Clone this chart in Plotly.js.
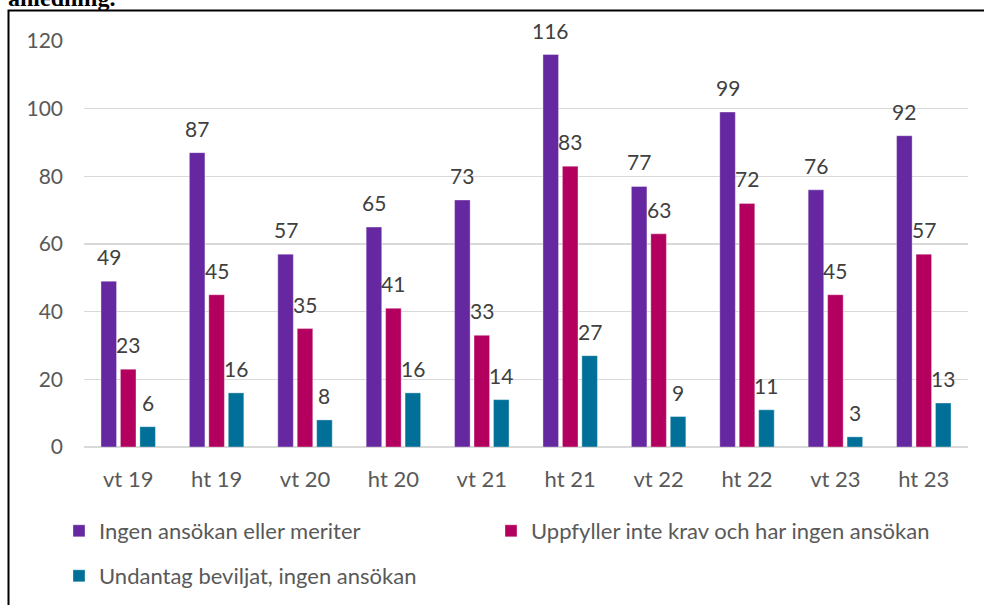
<!DOCTYPE html>
<html>
<head>
<meta charset="utf-8">
<script src="https://cdn.plot.ly/plotly-3.0.1.min.js"></script>
<style>html,body{margin:0;padding:0;background:#fff;}#chart{width:984px;height:605px;}</style>
</head>
<body>
<div id="chart"></div>
<script>
const categories = ["vt 19","ht 19","vt 20","ht 20","vt 21","ht 21","vt 22","ht 22","vt 23","ht 23"];
const seriesNames = ["Ingen ansökan eller meriter","Uppfyller inte krav och har ingen ansökan","Undantag beviljat, ingen ansökan"];
const ingenAnsokan = [49,87,57,65,73,116,77,99,76,92];
const uppfyllerInte = [23,45,35,41,33,83,63,72,45,57];
const undantag = [6,16,8,16,14,27,9,11,3,13];
const yTicks = [0,20,40,60,80,100,120];
const colors = ["#6528A0","#B3005E","#007098"];

const W = 984, H = 605;
const M = {l:84, r:16, t:41, b:158};
const plotW = W - M.l - M.r, plotH = H - M.t - M.b;
const bargap = 0.34, bargroupgap = 0.2;
const font = "Lato, 'Open Sans', sans-serif";

const seriesValues = [ingenAnsokan, uppfyllerInte, undantag];
const legendIds = ["legend","legend2","legend3"];

const traces = seriesValues.map((vals, s) => ({
  type: "bar",
  name: seriesNames[s],
  x: categories,
  y: vals,
  marker: {color: colors[s], line: {color: "rgba(255,255,255,0.35)", width: 1}},
  legend: legendIds[s],
  showlegend: true,
  hoverinfo: "x+y+name"
}));

// data labels above bars
const annotations = [];
const slotPx = plotW / categories.length * (1 - bargap) / seriesValues.length;
seriesValues.forEach((vals, s) => {
  vals.forEach((v, i) => {
    annotations.push({
      x: categories[i], y: v, xref: "x", yref: "y",
      text: String(v), showarrow: false,
      xanchor: "center", yanchor: "bottom",
      xshift: (s - (seriesValues.length - 1) / 2) * slotPx,
      yshift: 10,
      font: {family: font, size: 21, color: "#404040"}
    });
  });
});
const pxToPaperX = px => (px - M.l) / plotW;
const pxToPaperY = py => (H - M.b - py) / plotH;

// partially visible caption above the frame
annotations.push({
  xref: "paper", yref: "paper", x: pxToPaperX(6), y: pxToPaperY(12.5),
  xanchor: "left", yanchor: "bottom", showarrow: false,
  text: "<b>anledning.</b>",
  font: {family: "'Liberation Serif', 'DejaVu Serif', serif", size: 24, color: "#000"}
});

const legendBase = {
  orientation: "h", xanchor: "left", yanchor: "middle",
  font: {family: font, size: 22, color: "#595959"},
  bgcolor: "rgba(0,0,0,0)", itemclick: false, itemdoubleclick: false,
  visible: true
};

const layout = {
  width: W, height: H,
  margin: Object.assign({autoexpand: false}, M),
  showlegend: true,
  paper_bgcolor: "#fff", plot_bgcolor: "#fff",
  barmode: "group", bargap: bargap, bargroupgap: bargroupgap,
  font: {family: font, size: 21, color: "#595959"},
  xaxis: {
    type: "category", showgrid: false, zeroline: false, showline: false,
    ticks: "", ticklabelstandoff: 17,
    tickfont: {family: font, size: 22, color: "#595959"}
  },
  yaxis: {
    range: [0, 120], tickvals: yTicks, ticktext: yTicks.map(String),
    showgrid: true, gridcolor: "#D9D9D9", gridwidth: 1.5,
    zeroline: true, zerolinecolor: "#D9D9D9", zerolinewidth: 2,
    showline: false, ticks: "", ticklabelstandoff: 20,
    tickfont: {family: font, size: 21, color: "#595959"}
  },
  legend: Object.assign({}, legendBase, {x: pxToPaperX(59), y: pxToPaperY(531)}),
  legend2: Object.assign({}, legendBase, {x: pxToPaperX(491), y: pxToPaperY(531)}),
  legend3: Object.assign({}, legendBase, {x: pxToPaperX(59), y: pxToPaperY(576)}),
  annotations: annotations,
  shapes: [{
    type: "rect", xref: "paper", yref: "paper",
    x0: pxToPaperX(8.5), x1: pxToPaperX(1000), y0: pxToPaperY(700), y1: pxToPaperY(10.5),
    line: {color: "#000", width: 2}, fillcolor: "rgba(0,0,0,0)", layer: "above"
  }]
};

Plotly.newPlot("chart", traces, layout, {displayModeBar: false, responsive: false, staticPlot: true});
</script>
</body>
</html>
